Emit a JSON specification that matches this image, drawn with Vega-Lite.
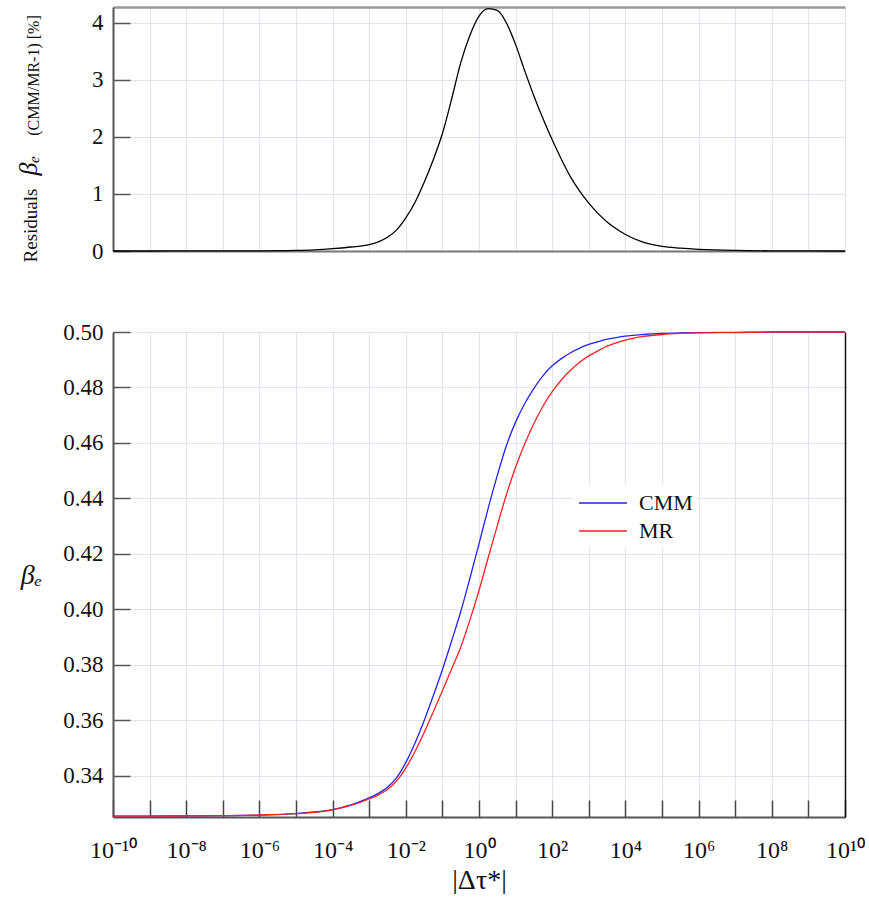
{
  "$schema": "https://vega.github.io/schema/vega-lite/v6.json",
  "autosize": {"type": "pad"},
  "padding": {"left": 15, "top": 6, "right": 0, "bottom": 0},
  "background": "white",
  "config": {
    "font": "Liberation Serif",
    "view": {"stroke": null},
    "axis": {
      "labelFont": "Liberation Serif", "titleFont": "Liberation Serif",
      "labelColor": "#111", "titleColor": "#111", "titleFontWeight": "normal",
      "gridColor": "#c4c4e2", "gridDash": [1, 1], "gridWidth": 1,
      "domainColor": "#555", "domainWidth": 2, "tickColor": "#555", "tickWidth": 1.5
    },
    "legend": {"labelFont": "Liberation Serif"}
  },
  "datasets": {
    "res": [
      {"x": 1e-10, "r": 0}, {"x": 1e-9, "r": 0}, {"x": 1e-8, "r": 0.001}, {"x": 1e-7, "r": 0.002},
      {"x": 1e-6, "r": 0.003}, {"x": 1e-5, "r": 0.01}, {"x": 3.162e-5, "r": 0.02}, {"x": 1e-4, "r": 0.04},
      {"x": 3.162e-4, "r": 0.07}, {"x": 1e-3, "r": 0.11}, {"x": 1.778e-3, "r": 0.16}, {"x": 3.162e-3, "r": 0.24},
      {"x": 5.623e-3, "r": 0.37}, {"x": 0.01, "r": 0.58}, {"x": 0.01778, "r": 0.85}, {"x": 0.03162, "r": 1.2},
      {"x": 0.05623, "r": 1.6}, {"x": 0.1, "r": 2.06}, {"x": 0.1778, "r": 2.66}, {"x": 0.3162, "r": 3.3},
      {"x": 0.5623, "r": 3.78}, {"x": 1, "r": 4.12}, {"x": 1.778, "r": 4.25}, {"x": 3.162, "r": 4.22},
      {"x": 5.623, "r": 4.0}, {"x": 10, "r": 3.62}, {"x": 17.78, "r": 3.16}, {"x": 31.62, "r": 2.72},
      {"x": 56.23, "r": 2.32}, {"x": 100, "r": 1.95}, {"x": 177.8, "r": 1.61}, {"x": 316.2, "r": 1.3},
      {"x": 562.3, "r": 1.05}, {"x": 1000, "r": 0.84}, {"x": 1778, "r": 0.66}, {"x": 3162, "r": 0.51},
      {"x": 5623, "r": 0.39}, {"x": 1e4, "r": 0.29}, {"x": 3.162e4, "r": 0.15}, {"x": 1e5, "r": 0.08},
      {"x": 3.162e5, "r": 0.05}, {"x": 1e6, "r": 0.03}, {"x": 1e7, "r": 0.01}, {"x": 1e8, "r": 0.003},
      {"x": 1e9, "r": 0.001}, {"x": 1e10, "r": 0}
    ],
    "beta": [
      {"model": "CMM", "x": 1e-10, "v": 0.3254}, {"model": "CMM", "x": 1e-9, "v": 0.3254},
      {"model": "CMM", "x": 1e-8, "v": 0.3255}, {"model": "CMM", "x": 1e-7, "v": 0.3256},
      {"model": "CMM", "x": 1e-6, "v": 0.3258}, {"model": "CMM", "x": 1e-5, "v": 0.3263},
      {"model": "CMM", "x": 3.162e-5, "v": 0.3269}, {"model": "CMM", "x": 1e-4, "v": 0.3278},
      {"model": "CMM", "x": 3.162e-4, "v": 0.3295}, {"model": "CMM", "x": 1e-3, "v": 0.332},
      {"model": "CMM", "x": 1.778e-3, "v": 0.3336}, {"model": "CMM", "x": 3.162e-3, "v": 0.3358},
      {"model": "CMM", "x": 5.623e-3, "v": 0.3393}, {"model": "CMM", "x": 0.01, "v": 0.3447},
      {"model": "CMM", "x": 0.01778, "v": 0.3517}, {"model": "CMM", "x": 0.03162, "v": 0.3598},
      {"model": "CMM", "x": 0.05623, "v": 0.3688}, {"model": "CMM", "x": 0.1, "v": 0.3782},
      {"model": "CMM", "x": 0.1778, "v": 0.3885}, {"model": "CMM", "x": 0.3162, "v": 0.3991},
      {"model": "CMM", "x": 0.5623, "v": 0.4111}, {"model": "CMM", "x": 1, "v": 0.4236},
      {"model": "CMM", "x": 1.778, "v": 0.4364}, {"model": "CMM", "x": 3.162, "v": 0.4483},
      {"model": "CMM", "x": 5.623, "v": 0.4591}, {"model": "CMM", "x": 10, "v": 0.4675},
      {"model": "CMM", "x": 17.78, "v": 0.4742}, {"model": "CMM", "x": 31.62, "v": 0.4797},
      {"model": "CMM", "x": 56.23, "v": 0.4843}, {"model": "CMM", "x": 100, "v": 0.4878},
      {"model": "CMM", "x": 177.8, "v": 0.4904}, {"model": "CMM", "x": 316.2, "v": 0.4925},
      {"model": "CMM", "x": 562.3, "v": 0.4942}, {"model": "CMM", "x": 1000, "v": 0.4955},
      {"model": "CMM", "x": 1778, "v": 0.4965}, {"model": "CMM", "x": 3162, "v": 0.4974},
      {"model": "CMM", "x": 5623, "v": 0.498}, {"model": "CMM", "x": 1e4, "v": 0.4985},
      {"model": "CMM", "x": 3.162e4, "v": 0.4991}, {"model": "CMM", "x": 1e5, "v": 0.4995},
      {"model": "CMM", "x": 3.162e5, "v": 0.4997}, {"model": "CMM", "x": 1e6, "v": 0.4998},
      {"model": "CMM", "x": 1e7, "v": 0.4999}, {"model": "CMM", "x": 1e8, "v": 0.5},
      {"model": "CMM", "x": 1e9, "v": 0.5}, {"model": "CMM", "x": 1e10, "v": 0.5},
      {"model": "MR", "x": 1e-10, "v": 0.3254}, {"model": "MR", "x": 1e-9, "v": 0.3254},
      {"model": "MR", "x": 1e-8, "v": 0.3255}, {"model": "MR", "x": 1e-7, "v": 0.3256},
      {"model": "MR", "x": 1e-6, "v": 0.3258}, {"model": "MR", "x": 1e-5, "v": 0.3263},
      {"model": "MR", "x": 3.162e-5, "v": 0.3268}, {"model": "MR", "x": 1e-4, "v": 0.3277},
      {"model": "MR", "x": 3.162e-4, "v": 0.3293}, {"model": "MR", "x": 1e-3, "v": 0.3316},
      {"model": "MR", "x": 1.778e-3, "v": 0.3331}, {"model": "MR", "x": 3.162e-3, "v": 0.335},
      {"model": "MR", "x": 5.623e-3, "v": 0.3381}, {"model": "MR", "x": 0.01, "v": 0.3427},
      {"model": "MR", "x": 0.01778, "v": 0.3487}, {"model": "MR", "x": 0.03162, "v": 0.3555},
      {"model": "MR", "x": 0.05623, "v": 0.363}, {"model": "MR", "x": 0.1, "v": 0.3706},
      {"model": "MR", "x": 0.1778, "v": 0.3784}, {"model": "MR", "x": 0.3162, "v": 0.3863},
      {"model": "MR", "x": 0.5623, "v": 0.3961}, {"model": "MR", "x": 1, "v": 0.4068},
      {"model": "MR", "x": 1.778, "v": 0.4186}, {"model": "MR", "x": 3.162, "v": 0.4302},
      {"model": "MR", "x": 5.623, "v": 0.4414}, {"model": "MR", "x": 10, "v": 0.4512},
      {"model": "MR", "x": 17.78, "v": 0.4597}, {"model": "MR", "x": 31.62, "v": 0.467},
      {"model": "MR", "x": 56.23, "v": 0.4733}, {"model": "MR", "x": 100, "v": 0.4785},
      {"model": "MR", "x": 177.8, "v": 0.4827}, {"model": "MR", "x": 316.2, "v": 0.4862},
      {"model": "MR", "x": 562.3, "v": 0.4891}, {"model": "MR", "x": 1000, "v": 0.4914},
      {"model": "MR", "x": 1778, "v": 0.4932}, {"model": "MR", "x": 3162, "v": 0.4949},
      {"model": "MR", "x": 5623, "v": 0.4961}, {"model": "MR", "x": 1e4, "v": 0.4971},
      {"model": "MR", "x": 3.162e4, "v": 0.4984}, {"model": "MR", "x": 1e5, "v": 0.4991},
      {"model": "MR", "x": 3.162e5, "v": 0.4995}, {"model": "MR", "x": 1e6, "v": 0.4997},
      {"model": "MR", "x": 1e7, "v": 0.4998}, {"model": "MR", "x": 1e8, "v": 0.5},
      {"model": "MR", "x": 1e9, "v": 0.5}, {"model": "MR", "x": 1e10, "v": 0.5}
    ]
  },
  "bounds": "flush",
  "spacing": 81,
  "vconcat": [
    {
      "width": 732, "height": 244,
      "data": {"name": "res"},
      "layer": [
        {
          "mark": {"type": "line", "color": "black", "strokeWidth": 1.3, "interpolate": "monotone"},
          "encoding": {
            "x": {"field": "x", "type": "quantitative",
              "scale": {"type": "log", "domain": [1e-10, 1e10]},
              "axis": {"orient": "bottom", "values": [1e-10,1e-9,1e-8,1e-7,1e-6,1e-5,1e-4,1e-3,1e-2,1e-1,1,10,100,1000,1e4,1e5,1e6,1e7,1e8,1e9,1e10],
                "labels": false, "ticks": false, "grid": true, "domainColor": "#777",
                "title": "βₑ", "titleFont": "Liberation Serif", "titleFontSize": 26, "titleFontStyle": "italic", "titleAngle": -90,
                "titleX": -85, "titleY": -86, "titleAlign": "center", "titleBaseline": "middle"}},
            "y": {"field": "r", "type": "quantitative",
              "scale": {"domain": [0, 4.28], "nice": false, "zero": false},
              "axis": {"values": [0, 1, 2, 3, 4], "format": "d", "tickSize": -17,
                "labelFont": "Liberation Serif", "labelFontSize": 23, "labelPadding": 27,
                "grid": true, "title": "Residuals", "titleFont": "Liberation Serif", "titleFontSize": 19, "titleAngle": -90,
                "titleX": -83, "titleY": 218, "titleAlign": "center", "titleBaseline": "middle"}}
          }
        },
        {
          "mark": {"type": "line", "strokeOpacity": 0},
          "encoding": {
            "x": {"field": "x", "type": "quantitative",
              "axis": {"orient": "top", "labels": false, "ticks": false, "grid": false,
                "domainColor": "#999", "domainWidth": 2.5,
                "title": "(CMM/MR-1) [%]", "titleFont": "Liberation Serif", "titleFontSize": 16, "titleAngle": -90,
                "titleX": -80, "titleY": 68, "titleAlign": "center", "titleBaseline": "middle"}},
            "y": {"field": "r", "type": "quantitative"}
          }
        }
      ],
      "resolve": {"axis": {"x": "independent"}}
    },
    {
      "width": 732, "height": 485,
      "data": {"name": "beta"},
      "layer": [
        {
          "mark": {"type": "line", "strokeWidth": 1.3, "interpolate": "monotone"},
          "encoding": {
            "x": {"field": "x", "type": "quantitative",
              "scale": {"type": "log", "domain": [1e-10, 1e10]},
              "axis": {"values": [1e-10,1e-9,1e-8,1e-7,1e-6,1e-5,1e-4,1e-3,1e-2,1e-1,1,10,100,1000,1e4,1e5,1e6,1e7,1e8,1e9,1e10],
                "tickSize": -17, "tickColor": "#444",
                "labelExpr": "['10⁻¹⁰','','10⁻⁸','','10⁻⁶','','10⁻⁴','','10⁻²','','10⁰','','10²','','10⁴','','10⁶','','10⁸','','10¹⁰'][round(log(datum.value)/LN10)+10]",
                "labelFont": "Liberation Serif", "labelFontSize": 24, "labelPadding": 38, "labelOverlap": false, "labelFlush": false, "labelBound": false,
                "grid": true, "title": "|Δτ*|", "titleFont": "Liberation Serif", "titleFontSize": 28, "titlePadding": 4}},
            "y": {"field": "v", "type": "quantitative",
              "scale": {"domain": [0.3251, 0.5], "nice": false, "zero": false},
              "axis": {"values": [0.34, 0.36, 0.38, 0.40, 0.42, 0.44, 0.46, 0.48, 0.50], "format": ".2f",
                "tickSize": -17, "labelFont": "Liberation Serif", "labelFontSize": 23, "labelPadding": 27, "grid": true,
                "title": "βₑ", "titleFont": "Liberation Serif", "titleFontSize": 28, "titleFontStyle": "italic", "titleAngle": 0,
                "titleX": -82, "titleY": 243, "titleAlign": "center", "titleBaseline": "middle"}},
            "color": {"field": "model", "type": "nominal",
              "scale": {"domain": ["CMM", "MR"], "range": ["#2424f0", "#f02424"]},
              "legend": {"orient": "none", "legendX": 460, "legendY": 478, "title": null,
                "symbolType": "M-2,0H2", "symbolSize": 576, "symbolStrokeWidth": 1.5, "symbolOffset": 12,
                "labelFontSize": 22, "labelFont": "Liberation Serif", "labelColor": "#111",
                "fillColor": "white", "padding": 5, "rowPadding": 4, "labelOffset": 23}}
          }
        },
        {
          "mark": {"type": "line", "strokeOpacity": 0},
          "encoding": {
            "x": {"field": "x", "type": "quantitative"},
            "y": {"field": "v", "type": "quantitative",
              "axis": {"orient": "right", "labels": false, "ticks": false, "grid": false, "title": null,
                "domainColor": "#111", "domainWidth": 1.5}}
          }
        }
      ],
      "resolve": {"axis": {"y": "independent"}}
    }
  ]
}
